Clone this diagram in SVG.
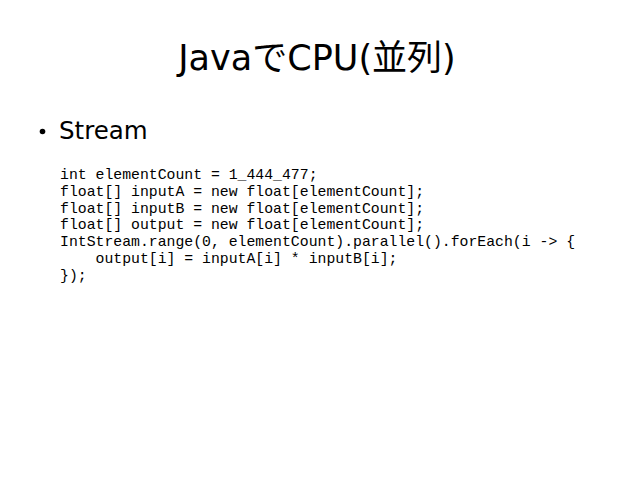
<svg xmlns="http://www.w3.org/2000/svg" width="638" height="479" viewBox="0 0 638 479">
<style>
.title{font-family:"DejaVu Sans","Noto Sans CJK JP",sans-serif;font-size:35px;fill:#000}
.bullet{font-family:"DejaVu Sans","Noto Sans CJK JP",sans-serif;font-size:24.5px;fill:#000}
.code{font-family:"Liberation Mono","DejaVu Sans Mono",monospace;font-size:14.8px;fill:#000;white-space:pre}
</style>
<rect width="638" height="479" fill="#fff"/>
<g id="title">
<text class="title" x="317" y="70" text-anchor="middle">JavaでCPU(並列)</text>
</g>
<g id="bullet">
<circle cx="42.5" cy="131.5" r="2.8" fill="#000"/>
<text class="bullet" x="59" y="138.5">Stream</text>
</g>
<g id="code">
<text class="code" x="60" y="179" xml:space="preserve">int elementCount = 1_444_477;</text>
<text class="code" x="60" y="195.8" xml:space="preserve">float[] inputA = new float[elementCount];</text>
<text class="code" x="60" y="212.6" xml:space="preserve">float[] inputB = new float[elementCount];</text>
<text class="code" x="60" y="229.4" xml:space="preserve">float[] output = new float[elementCount];</text>
<text class="code" x="60" y="246.2" xml:space="preserve">IntStream.range(0, elementCount).parallel().forEach(i -&gt; {</text>
<text class="code" x="60" y="263" xml:space="preserve">    output[i] = inputA[i] * inputB[i];</text>
<text class="code" x="60" y="279.8" xml:space="preserve">});</text>
</g>
</svg>
